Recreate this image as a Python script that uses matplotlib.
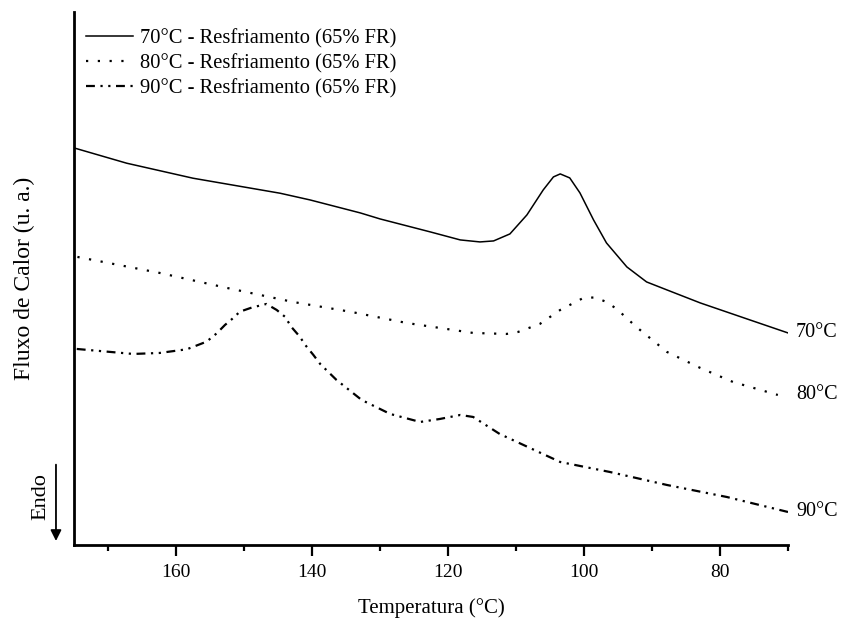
import matplotlib
matplotlib.use('Agg')
import matplotlib.pyplot as plt

plt.rcParams['font.family'] = 'Liberation Serif'

# temperatura (°C) e fluxo de calor (u. a.)
temp_70 = [174.85, 167.25, 157.5, 144.7, 140.3, 132.9, 130.0, 122.6, 118.2, 115.3, 113.3,
           110.9, 108.4, 106.0, 104.5, 103.5, 102.1, 100.6, 98.6, 96.7, 93.7, 90.8,
           87.8, 82.9, 75.6, 70.0]
flux_70 = [39.67, 38.17, 36.67, 35.17, 34.5, 33.2, 32.6, 31.3, 30.5, 30.3, 30.4,
           31.1, 33.0, 35.5, 36.8, 37.1, 36.7, 35.2, 32.5, 30.2, 27.8, 26.3,
           25.5, 24.2, 22.5, 21.2]

temp_80 = [174.5, 162.4, 152.5, 142.8, 134.2, 126.1, 116.3, 111.4, 109.7, 106.5, 103.5,
           100.1, 98.4, 96.7, 95.2, 92.3, 87.8, 82.9, 78.1, 71.5]
flux_80 = [28.8, 27.2, 25.7, 24.3, 23.3, 22.2, 21.2, 21.1, 21.3, 22.1, 23.5,
           24.7, 24.75, 24.3, 23.6, 21.8, 19.3, 17.7, 16.3, 15.0]

temp_90 = [174.6, 166.3, 162.4, 158.4, 155.5, 154.0, 152.8, 151.8, 150.6, 148.9, 146.7,
           145.2, 144.0, 143.0, 141.8, 141.0, 139.8, 138.8, 136.4, 132.7, 128.5, 124.1,
           121.2, 118.2, 116.3, 112.4, 103.5, 96.2, 87.8, 79.0, 71.2, 70.0]
flux_90 = [19.6, 19.1, 19.2, 19.57, 20.33, 21.17, 22.0, 22.57, 23.33, 23.73, 24.1,
           23.5, 22.83, 21.77, 20.83, 20.0, 19.0, 18.1, 16.5, 14.5, 13.1, 12.3,
           12.6, 13.0, 12.8, 11.1, 8.3, 7.3, 6.0, 4.8, 3.5, 3.3]

series = [
    (temp_70, flux_70, '70°C - Resfriamento (65% FR)', '70°C', '-', 1.1),
    (temp_80, flux_80, '80°C - Resfriamento (65% FR)', '80°C', (0, (1, 4.3)), 1.6),
    (temp_90, flux_90, '90°C - Resfriamento (65% FR)', '90°C', (0, (4, 2.5, 1, 2.5, 1, 2.5)), 1.6),
]

fig = plt.figure(figsize=(8.43, 6.25), dpi=100)
ax = fig.add_axes([0.0878, 0.128, 0.847, 0.853])

for t, f, lab, short, ls, lw in series:
    ax.plot(t, f, color='black', linestyle=ls, linewidth=lw, label=lab)
    ax.text(1.011, f[-1], short, transform=ax.get_yaxis_transform(),
            ha='left', va='center', fontsize=14.5)

ax.set_xlim(175, 70)
ax.set_ylim(0, 53.3)
ax.set_xticks([160, 140, 120, 100, 80])
ax.set_xticks([170, 150, 130, 110, 90, 70], minor=True)
ax.set_yticks([])
ax.tick_params(axis='x', which='major', direction='out', length=8, width=1.6, labelsize=14, pad=6)
ax.tick_params(axis='x', which='minor', direction='out', length=4, width=1.6)
for s in ['top', 'right']:
    ax.spines[s].set_visible(False)
for s in ['left', 'bottom']:
    ax.spines[s].set_linewidth(2)

ax.set_xlabel('Temperatura (°C)', fontsize=15, labelpad=12)
ax.set_ylabel('Fluxo de Calor (u. a.)', fontsize=17, labelpad=28)

ax.legend(loc='upper left', frameon=False, fontsize=14.8, handlelength=2.3,
          handletextpad=0.34, labelspacing=0.27, borderpad=0, borderaxespad=0,
          bbox_to_anchor=(0.0168, 0.968))

fig.text(0.048, 0.205, 'Endo', rotation=90, ha='center', va='center', fontsize=16)
ax.annotate('', xy=(0.0664, 0.130), xytext=(0.0664, 0.261), xycoords='figure fraction',
            arrowprops=dict(arrowstyle='-|>', color='black', lw=1.3, mutation_scale=16))

fig.savefig('out.png', dpi=100)
